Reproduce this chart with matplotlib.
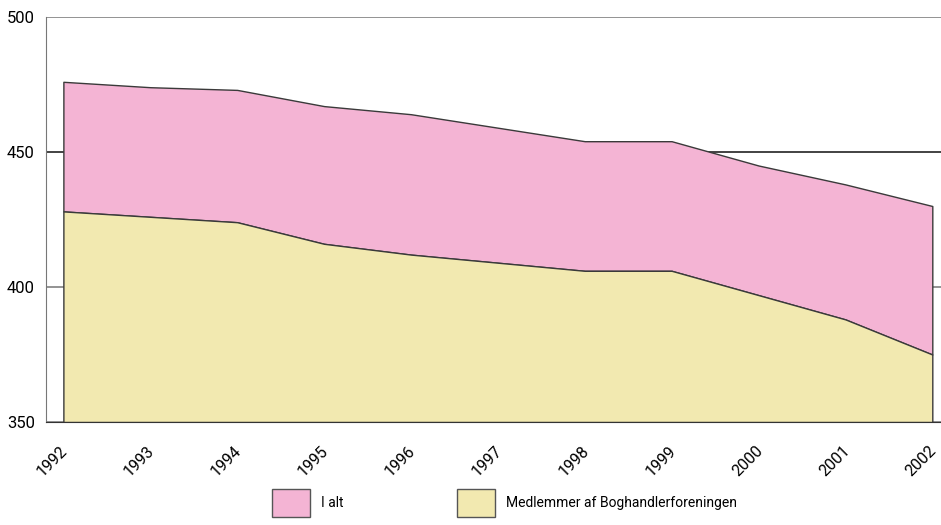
import matplotlib
matplotlib.use("Agg")
import matplotlib.pyplot as plt
import matplotlib.transforms as mtransforms
from matplotlib.patches import Patch

# data
years = [1992, 1993, 1994, 1995, 1996, 1997, 1998, 1999, 2000, 2001, 2002]
i_alt = [476, 474, 473, 467, 464, 459, 454, 454, 445, 438, 430]
medlemmer = [428, 426, 424, 416, 412, 409, 406, 406, 397, 388, 375]
labels = ["I alt", "Medlemmer af Boghandlerforeningen"]
yticks = [350, 400, 450, 500]

pink = "#f4b4d4"
yellow = "#f2e9b0"
edge = "#3a3a3a"

plt.rcParams["font.family"] = ["Roboto", "DejaVu Sans"]

fig = plt.figure(figsize=(9.41, 5.25), dpi=100)
W, H = 941, 525
ax = fig.add_axes([46 / W, 1 - 422 / H, (941 - 46) / W, (422 - 17) / H])

ax.fill_between(years, medlemmer, i_alt, facecolor=pink, edgecolor=edge, linewidth=1, zorder=2)
ax.fill_between(years, 350, medlemmer, facecolor=yellow, edgecolor=edge, linewidth=1, zorder=2)

ax.set_xlim(1991.8, 2002.1)
ax.set_ylim(350, 500)
ax.set_yticks(yticks)
ax.set_xticks(years)
ax.tick_params(axis="y", length=0, pad=8, labelsize=12)
ax.tick_params(axis="x", length=0, pad=15)
ax.set_xticklabels([str(y) for y in years], rotation=45, ha="right", va="top",
                   rotation_mode="anchor", fontsize=11.5)
# pull the rotated labels left so they end at the tick
shift = mtransforms.ScaledTranslation(-2.5 / 72, 0, fig.dpi_scale_trans)
for lab in ax.get_xticklabels():
    lab.set_transform(lab.get_transform() + shift)
ax.yaxis.grid(True, color="#808080", linewidth=1.2, zorder=0)
ax.get_ygridlines()[2].set_color("#222222")
ax.set_axisbelow(True)

for s in ["top", "right"]:
    ax.spines[s].set_visible(False)
ax.spines["left"].set_color("#777777")
ax.spines["bottom"].set_color("#333333")

handles = [Patch(facecolor=pink, edgecolor="#555555", linewidth=1),
           Patch(facecolor=yellow, edgecolor="#555555", linewidth=1)]
fig.legend(handles, labels, loc="upper left", bbox_to_anchor=(272 / W, 1 - 489 / H),
           ncol=2, frameon=False, fontsize=10, handlelength=2.75, handleheight=2.75,
           handletextpad=0.75, columnspacing=8.2, borderpad=0, borderaxespad=0)

fig.savefig("out.png", dpi=100)
